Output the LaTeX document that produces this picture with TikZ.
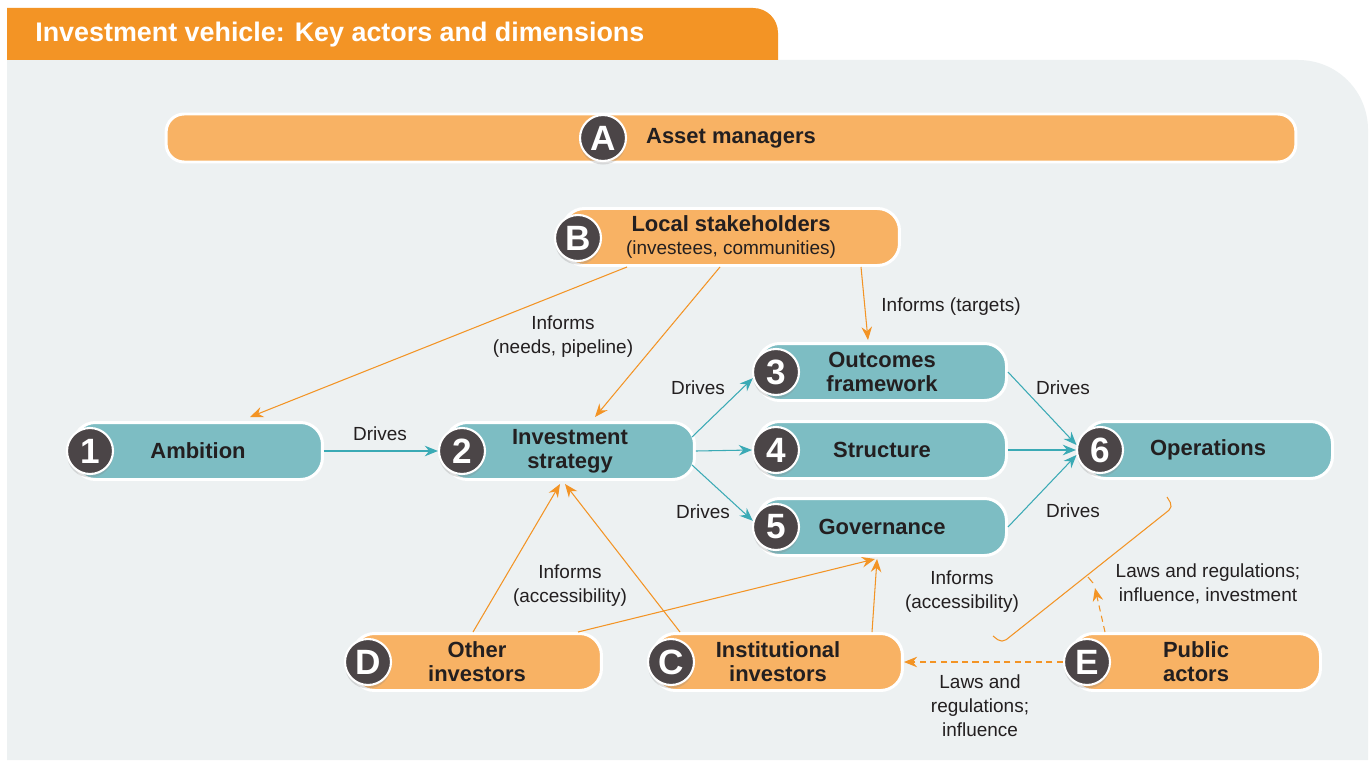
\documentclass[tikz,border=0pt]{standalone}
\usepackage{fontspec}
\setmainfont{Liberation Sans}
\usetikzlibrary{calc,arrows.meta,positioning,shadows}

\definecolor{panelgray}{HTML}{EDF1F2}
\definecolor{taborange}{HTML}{F39425}
\definecolor{amberfill}{HTML}{F8B264}
\definecolor{tealfill}{HTML}{7DBDC3}
\definecolor{badgegray}{HTML}{4B4547}
\definecolor{tealline}{HTML}{3AAAB5}
\definecolor{orline}{HTML}{F39425}
\definecolor{inkgray}{HTML}{231F20}

\newcommand{\pillfont}{\fontsize{12.5}{13.6}\selectfont\bfseries}
\newcommand{\labfont}{\fontsize{10.8}{13.6}\selectfont}

\begin{document}
\begin{tikzpicture}[
    x = 0.02cm, y = -0.02cm,
    >={Stealth[length=7.5pt, width=6pt, inset=2.5pt]},
    pill/.style = {
      draw = white,
      line width = 1.7pt,
      rounded corners = 0.44cm,
      minimum width = 4.98cm,
      minimum height = 1.14cm,
      inner sep = 0pt,
      align = center,
      text = inkgray,
      font = \pillfont},
    tealpill/.style = {pill, fill = tealfill},
    amberpill/.style = {pill, fill = amberfill},
    badge/.style = {
      circle,
      fill = badgegray,
      draw = white,
      line width = 1.2pt,
      minimum size = 0.92cm,
      inner sep = 0pt,
      text = white,
      font = \fontsize{20}{20}\selectfont\bfseries,
      drop shadow = {opacity = .25, shadow xshift = 0pt, shadow yshift = -2pt}},
    lab/.style = {font = \labfont, text = inkgray, align = center},
    drives/.style = {->, draw = tealline, line width = .6pt},
    informs/.style = {->, draw = orline, line width = .6pt},
    laws/.style = {informs, dash pattern = on 3.5pt off 2.5pt}
  ]
  \useasboundingbox (0,0) rectangle (1371,760);
  \fill[white] (0,0) rectangle (1371,760);

  % panel and title tab
  \fill[panelgray] (7,760) -- (7,60) -- (1298,60) .. controls (1337,60) and (1368,91) .. (1368,130) -- (1368,760) -- cycle;
  \fill[taborange] (7,60) -- (7,8) -- (753,8) .. controls (767,8) and (778,19) .. (778,33) -- (778,60) -- cycle;
  \node[anchor = west, text = white, inner sep = 0pt, font = \fontsize{15.3}{16}\selectfont\bfseries] (title) at (35,35) {Investment vehicle: Key actors and dimensions};

  % actors
  \node[amberpill, minimum width = 22.6cm, minimum height = 0.96cm, rounded corners = 0.36cm] (mgr) at (731,138) {Asset managers};
  \node[badge] (bA) at (603,138) {A};
  \node[amberpill, minimum width = 6.74cm] (loc) at (731,237) {Local stakeholders\\{\mdseries\labfont (investees, communities)}};
  \node[badge] (bB) at (578,238) {B};
  \node[amberpill] (oth) at (477,662) {Other\\investors};
  \node[badge] (bD) at (368,662) {D};
  \node[amberpill] (inst) at (778,662) {Institutional\\investors};
  \node[badge] (bC) at (671,662) {C};
  \node[amberpill] (pub) at (1196,662) {Public\\actors};
  \node[badge] (bE) at (1087,662) {E};

  % dimensions
  \node[tealpill] (amb) at (198,451) {Ambition};
  \node[badge] (b1) at (90,451) {1};
  \node[tealpill] (strat) at (570,451) {Investment\\strategy};
  \node[badge] (b2) at (462,451) {2};
  \node[tealpill] (outc) at (882,372) {Outcomes\\framework};
  \node[badge] (b3) at (776,372) {3};
  \node[tealpill] (struc) at (882,450) {Structure};
  \node[badge] (b4) at (776,450) {4};
  \node[tealpill] (gov) at (882,527) {Governance};
  \node[badge] (b5) at (776,527) {5};
  \node[tealpill] (ops) at (1208,450) {Operations};
  \node[badge] (b6) at (1100,450) {6};

  % teal connectors
  \draw[drives] (amb.east) -- (b2.west);
  \draw[drives] ($(strat.east)+(-4,-14)$) -- (b3.195);
  \draw[drives] (strat.east) -- (b4.west);
  \draw[drives] ($(strat.east)+(-4,14)$) -- (b5.165);
  \draw[drives] (outc.east) -- (b6.168);
  \draw[drives] (struc.east) -- (b6.west);
  \draw[drives] (gov.east) -- (b6.192);

  % orange connectors
  \draw[informs] ($(loc.south)+(-104,0)$) -- ($(amb.north)+(52,-4)$);
  \draw[informs] ($(loc.south)+(-11,0)$) -- ($(strat.north)+(25,-4)$);
  \draw[informs] ($(loc.south)+(130,0)$) -- ($(outc.north)+(-14,-2)$);
  \draw[informs] ($(oth.north)+(-4,0)$) -- ($(strat.south)+(-10,3)$);
  \draw[informs] ($(inst.north)+(-98,0)$) -- ($(strat.south)+(-5,3)$);
  \draw[informs] ($(oth.north)+(101,0)$) -- ($(gov.south)+(-7,2)$);
  \draw[informs] ($(inst.north)+(94,0)$) -- ($(gov.south)+(-5,2)$);
  \draw[laws] (bE.west) -- (inst.east);

  % bracket round the right-hand side
  \draw[orline, line width = .6pt, rounded corners = 3pt] (1167,497) -- (1173,507) -- (1002,643) -- (993,636);
  \draw[orline, line width = .6pt] (1088,577) -- (1093,583);
  \coordinate (lawtip) at (1095,588);
  \draw[laws] ($(pub.north)+(-91,0)$) -- (lawtip);

  % labels
  \node[lab] (l12) at (380,434) {Drives};
  \node[lab] (l23) at (698,388) {Drives};
  \node[lab] (l25) at (703,512) {Drives};
  \node[lab] (l36) at (1063,388) {Drives};
  \node[lab] (l56) at (1073,511) {Drives};
  \node[lab] (lneeds) at (563,337) {Informs\\(needs, pipeline)};
  \node[lab] (ltarg) at (951,307) {Informs (targets)};
  \node[lab] (lacc1) at (570,586) {Informs\\(accessibility)};
  \node[lab] (lacc2) at (962,592) {Informs\\(accessibility)};
  \node[lab] (llaw1) at (1208,584) {Laws and regulations;\\influence, investment};
  \node[lab] (llaw2) at (980,706) {Laws and\\regulations;\\influence};

\end{tikzpicture}
\end{document}
